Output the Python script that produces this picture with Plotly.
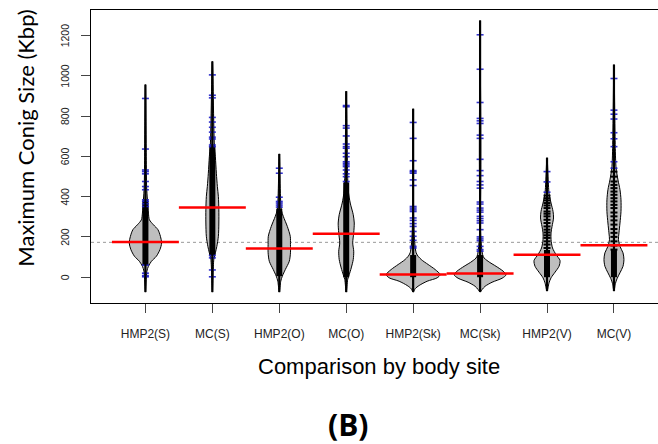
import plotly.graph_objects as go

# ---------------- data ----------------
categories = ["HMP2(S)", "MC(S)", "HMP2(O)", "MC(O)", "HMP2(Sk)", "MC(Sk)", "HMP2(V)", "MC(V)"]
medians = [175, 346, 143, 216, 13, 18, 112, 158]
overall_mean = 173
y_ticks = [0, 200, 400, 600, 800, 1000, 1200]

# extent of each bean (density tails)
tail_min = [-74, -74, -74, -74, -74, -74, -69, -69]
tail_max = [956, 1071, 612, 923, 836, 1274, 593, 1055]

# density profiles: value levels and half-widths (category units)
prof_y_hmp2_s = [450, 384, 318, 285, 260, 236, 203, 170, 137, 104, 79, 54, 30]
prof_w_hmp2_s = [0.018, 0.03, 0.045, 0.06, 0.12, 0.187, 0.224, 0.242, 0.217, 0.164, 0.09, 0.045, 0.022]
prof_y_mc_s = [656, 598, 516, 450, 400, 335, 269, 203, 153, 121, 88]
prof_w_mc_s = [0.03, 0.045, 0.06, 0.075, 0.09, 0.097, 0.097, 0.09, 0.067, 0.045, 0.022]
prof_y_hmp2_o = [335, 302, 252, 203, 162, 121, 79, 38, 5, -20]
prof_w_hmp2_o = [0.03, 0.06, 0.12, 0.164, 0.167, 0.167, 0.149, 0.09, 0.045, 0.022]
prof_y_mc_o = [434, 368, 310, 269, 220, 170, 129, 88, 46, 13, -11]
prof_w_mc_o = [0.03, 0.06, 0.105, 0.12, 0.112, 0.097, 0.112, 0.105, 0.075, 0.045, 0.022]
prof_y_hmp2_sk = [121, 88, 63, 38, 13, -3, -20, -41, -57]
prof_w_hmp2_sk = [0.045, 0.12, 0.224, 0.329, 0.403, 0.359, 0.209, 0.09, 0.03]
prof_y_mc_sk = [104, 79, 54, 30, 12, -5, -25, -45, -61]
prof_w_mc_sk = [0.045, 0.12, 0.239, 0.344, 0.388, 0.329, 0.179, 0.075, 0.03]
prof_y_hmp2_v = [417, 368, 326, 294, 252, 220, 186, 145, 112, 83, 54, 25, -3, -28]
prof_w_hmp2_v = [0.03, 0.06, 0.09, 0.097, 0.075, 0.06, 0.06, 0.082, 0.135, 0.194, 0.179, 0.12, 0.06, 0.03]
prof_y_mc_v = [549, 483, 434, 384, 326, 269, 220, 186, 153, 121, 88, 54, 22, -8, -31]
prof_w_mc_v = [0.03, 0.06, 0.09, 0.105, 0.105, 0.09, 0.075, 0.067, 0.09, 0.135, 0.149, 0.135, 0.09, 0.045, 0.022]

# dense runs of observations (solid bean lines)
dense_lo = [60, 110, 5, 0, 0, 0, 0, 0]
dense_hi = [380, 650, 340, 470, 110, 110, 135, 135]

# sparse single observations (blue marks)
obs_hmp2_s = [887, 636, 532, 524, 513, 475, 450, 434, 384, 376, 364, 351, 60, 20, 8, 2]
obs_mc_s = [1004, 903, 890, 793, 770, 744, 720, 695, 686, 656, 648, 108, 96, 36, 2]
obs_hmp2_o = [541, 516, 397, 376, 368, 358, 348]
obs_mc_o = [852, 846, 752, 740, 701, 661, 648, 640, 615, 598, 573, 565, 557, 549, 532, 513, 499, 475]
obs_hmp2_sk = [768, 689, 578, 529, 523, 516, 483, 455, 351, 343, 334, 326, 294, 282, 266, 252,
               227, 203, 183, 153, 145]
obs_mc_sk = [1203, 1032, 867, 788, 776, 763, 705, 689, 585, 529, 504, 475, 458, 442, 373, 363,
             343, 333, 323, 302, 291, 280, 269, 236, 200, 190, 181, 153, 137, 129]
obs_hmp2_v = [524, 473, 422]
obs_mc_v = [986, 829, 809, 785, 717, 687, 648, 573, 541]

# individually visible black bean lines
lines_hmp2_v = [405, 392, 381, 368, 356, 343, 326, 315, 302, 285, 269, 252, 236, 222, 208, 195, 178, 162, 145]
lines_mc_v = [524, 499, 475, 458, 442, 425, 409, 392, 376, 359, 343, 321, 302, 282, 261, 239, 220, 200,
              178, 157, 137]

profiles_y = [prof_y_hmp2_s, prof_y_mc_s, prof_y_hmp2_o, prof_y_mc_o,
              prof_y_hmp2_sk, prof_y_mc_sk, prof_y_hmp2_v, prof_y_mc_v]
profiles_w = [prof_w_hmp2_s, prof_w_mc_s, prof_w_hmp2_o, prof_w_mc_o,
              prof_w_hmp2_sk, prof_w_mc_sk, prof_w_hmp2_v, prof_w_mc_v]
obs_sparse = [obs_hmp2_s, obs_mc_s, obs_hmp2_o, obs_mc_o, obs_hmp2_sk, obs_mc_sk, obs_hmp2_v, obs_mc_v]
obs_lines = [[], [], [], [], [], [], lines_hmp2_v, lines_mc_v]

# ---------------- figure ----------------
fig = go.Figure()
positions = list(range(1, len(categories) + 1))

# overall line
fig.add_shape(type="line", xref="paper", x0=0, x1=1, yref="y", y0=overall_mean, y1=overall_mean,
              line=dict(color="#999999", width=1, dash="dot"), layer="below")

# bean bodies
for pos, ys, ws, lo, hi in zip(positions, profiles_y, profiles_w, tail_min, tail_max):
    px = [pos] + [pos + w for w in ws] + [pos] + [pos - w for w in reversed(ws)] + [pos]
    py = [hi] + list(ys) + [lo] + list(reversed(ys)) + [hi]
    fig.add_trace(go.Scatter(x=px, y=py, mode="lines", fill="toself",
                             fillcolor="#bebebe",
                             line=dict(color="black", width=1, shape="spline", smoothing=0.8),
                             hoverinfo="skip"))

# dense bean-line runs
for pos, lo, hi in zip(positions, dense_lo, dense_hi):
    fig.add_trace(go.Scatter(x=[pos, pos], y=[lo, hi], mode="lines",
                             line=dict(color="black", width=6), hoverinfo="skip"))

# individual black bean lines
for pos, vals in zip(positions, obs_lines):
    if vals:
        fig.add_trace(go.Scatter(x=[pos] * len(vals), y=vals, mode="markers",
                                 marker=dict(symbol="line-ew", size=5,
                                             line=dict(color="black", width=2)),
                                 hoverinfo="skip"))

# sparse blue observations
for pos, vals in zip(positions, obs_sparse):
    fig.add_trace(go.Scatter(x=[pos] * len(vals), y=vals, mode="markers",
                             marker=dict(symbol="line-ew", size=5,
                                         line=dict(color="rgba(30,30,200,0.9)", width=1.6)),
                             hoverinfo="skip"))

# bean tails (thin outline)
for pos, lo, hi in zip(positions, tail_min, tail_max):
    fig.add_trace(go.Scatter(x=[pos, pos], y=[lo, hi], mode="lines",
                             line=dict(color="black", width=2.2), hoverinfo="skip"))

# median lines
mx, my = [], []
for pos, m in zip(positions, medians):
    mx += [pos - 0.5, pos + 0.5, None]
    my += [m, m, None]
fig.add_trace(go.Scatter(x=mx, y=my, mode="lines", line=dict(color="#ff0000", width=2.5),
                         hoverinfo="skip"))

# y tick labels (rotated, placed on the y scale)
annotations = [
    dict(text=str(v), xref="paper", yref="y", x=-0.0459, y=v,
         xanchor="center", yanchor="middle", textangle=-90, showarrow=False,
         font=dict(family="Liberation Sans", size=10.5, color="#222"))
    for v in y_ticks
]
annotations += [
    dict(text="Maximum Conig Size (Kbp)", xref="paper", yref="paper", x=-0.1146, y=0.561,
         xanchor="center", yanchor="middle", textangle=-90, showarrow=False,
         font=dict(family="Lato", size=22, color="black")),
    dict(text="Comparison by body site", xref="paper", yref="paper", x=0.5088, y=-0.2177,
         xanchor="center", yanchor="middle", showarrow=False,
         font=dict(family="Liberation Sans", size=22, color="black")),
    dict(text="<b>(B)</b>", xref="paper", yref="paper", x=0.4545, y=-0.413,
         xanchor="center", yanchor="middle", showarrow=False,
         font=dict(family="Open Sans", size=30, color="black")),
]

fig.update_layout(
    width=658, height=444,
    margin=dict(l=91, r=0, t=9.5, b=140.5),
    paper_bgcolor="white", plot_bgcolor="white",
    showlegend=False,
    xaxis=dict(range=[0.187, 8.658], tickvals=positions, ticktext=categories,
               ticks="outside", ticklen=9, tickcolor="#444", tickwidth=1,
               tickfont=dict(family="Liberation Sans", size=12, color="#222"),
               showline=True, linecolor="black", linewidth=1, mirror=True,
               showgrid=False, zeroline=False, ticklabelstandoff=11),
    yaxis=dict(range=[-128, 1326], tickvals=y_ticks, ticks="outside", ticklen=9,
               tickcolor="#444", tickwidth=1, showticklabels=False,
               showline=True, linecolor="black", linewidth=1, mirror=False,
               showgrid=False, zeroline=False),
    annotations=annotations,
)

fig.write_html("out.html")
